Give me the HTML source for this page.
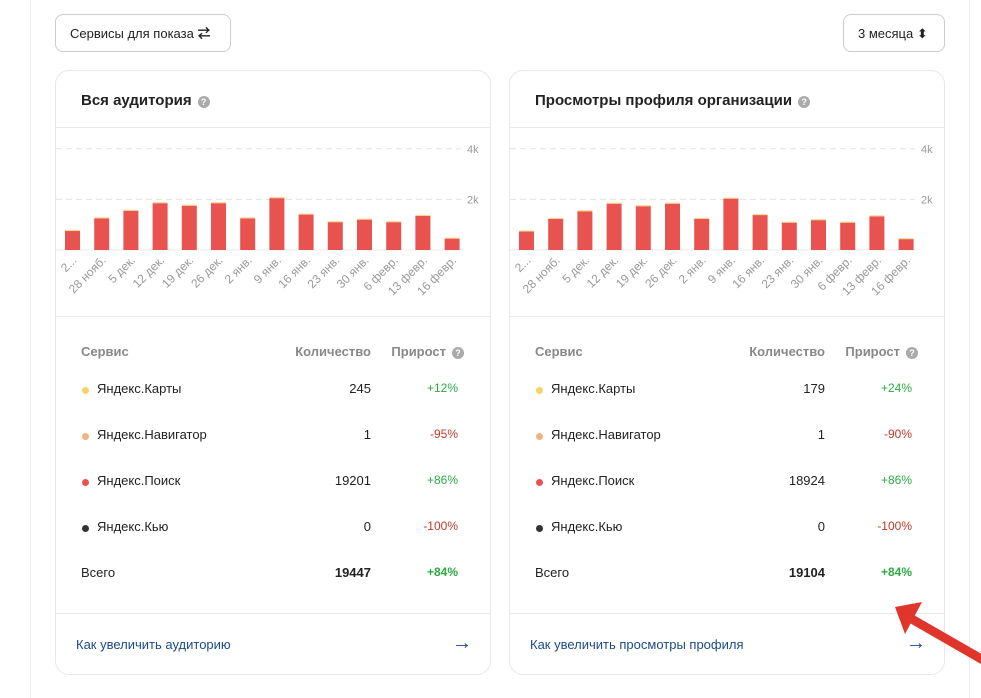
<!DOCTYPE html>
<html><head><meta charset="utf-8">
<style>
body{margin:0;width:981px;height:682px;background:#fff;font-family:"Liberation Sans","Noto Sans CJK SC",sans-serif;position:relative;overflow:hidden;color:#222}
.panel{position:absolute;left:30px;top:-2px;width:938px;height:700px;border-left:1px solid #eee;border-right:1px solid #eee}
.btn{position:absolute;top:14px;height:38px;border:1px solid #ccc;border-radius:8px;font-size:13px;line-height:38px;box-sizing:border-box;padding:0 14px;background:#fff}
.card{position:absolute;top:70px;width:436px;height:605px;border:1px solid #e8e8e8;border-radius:14px;box-sizing:border-box}
.title{position:absolute;left:25px;top:21px;font-size:15px;font-weight:bold;color:#222}
.q{display:inline-block;width:12px;height:12px;border-radius:50%;background:#aaa;color:#fff;font-size:9px;line-height:12px;text-align:center;vertical-align:0px;margin-left:6px}
.hr{position:absolute;left:0;right:0;height:1px;background:#e8e8e8}
.th{position:absolute;top:273px;font-size:13px;font-weight:bold;color:#888}
.row{position:absolute;left:0;right:0;height:20px;font-size:13px}
.row span{position:absolute;top:2px}
.row span.dot{width:7px;height:7px;border-radius:50%;left:26px;top:8px}
.link{position:absolute;left:20px;top:566px;font-size:13px;color:#1b4a8a}
.arr{position:absolute;right:18px;top:561px;font-size:20px;font-weight:bold;color:#1b4a8a}
.up{color:#2bab42}.dn{color:#c0392b}
</style></head><body>
<div class="panel"></div>
<div class="btn" style="left:55px;width:176px">Сервисы для показа <b>⇄</b></div>
<div class="btn" style="left:843px;width:102px">3 месяца ⬍</div>

<div id="c1" class="card" style="left:55px">
 <div class="title">Вся аудитория<span class="q">?</span></div>
 <div class="hr" style="top:56px"></div>
 <svg id="s1" width="436" height="190" style="position:absolute;left:0;top:56px"></svg>
 <div class="hr" style="top:245px"></div>
 <div class="th" style="left:25px">Сервис</div><div class="th" style="right:119px">Количество</div><div class="th" style="right:26px">Прирост<span class="q">?</span></div>
 <div class="row" style="top:308px"><span class="dot" style="background:#f5d36a"></span><span style="left:41px">Яндекс.Карты</span><span style="right:119px">245</span><span class="up" style="right:32px;font-size:12px">+12%</span></div>
 <div class="row" style="top:354px"><span class="dot" style="background:#f3b27e"></span><span style="left:41px">Яндекс.Навигатор</span><span style="right:119px">1</span><span class="dn" style="right:32px;font-size:12px">-95%</span></div>
 <div class="row" style="top:400px"><span class="dot" style="background:#e8534f"></span><span style="left:41px">Яндекс.Поиск</span><span style="right:119px">19201</span><span class="up" style="right:32px;font-size:12px">+86%</span></div>
 <div class="row" style="top:446px"><span class="dot" style="background:#333"></span><span style="left:41px">Яндекс.Кью</span><span style="right:119px">0</span><span class="dn" style="right:32px;font-size:12px">-100%</span></div>
 <div class="row" style="top:492px"><span style="left:25px">Всего</span><span style="right:119px;font-weight:bold">19447</span><span class="up" style="right:32px;font-size:12px;font-weight:bold">+84%</span></div>
 <div class="hr" style="top:542px"></div>
 <div class="link">Как увеличить аудиторию</div><div class="arr">→</div>
</div>

<div id="c2" class="card" style="left:509px">
 <div class="title">Просмотры профиля организации<span class="q">?</span></div>
 <div class="hr" style="top:56px"></div>
 <svg id="s2" width="436" height="190" style="position:absolute;left:0;top:56px"></svg>
 <div class="hr" style="top:245px"></div>
 <div class="th" style="left:25px">Сервис</div><div class="th" style="right:119px">Количество</div><div class="th" style="right:26px">Прирост<span class="q">?</span></div>
 <div class="row" style="top:308px"><span class="dot" style="background:#f5d36a"></span><span style="left:41px">Яндекс.Карты</span><span style="right:119px">179</span><span class="up" style="right:32px;font-size:12px">+24%</span></div>
 <div class="row" style="top:354px"><span class="dot" style="background:#f3b27e"></span><span style="left:41px">Яндекс.Навигатор</span><span style="right:119px">1</span><span class="dn" style="right:32px;font-size:12px">-90%</span></div>
 <div class="row" style="top:400px"><span class="dot" style="background:#e8534f"></span><span style="left:41px">Яндекс.Поиск</span><span style="right:119px">18924</span><span class="up" style="right:32px;font-size:12px">+86%</span></div>
 <div class="row" style="top:446px"><span class="dot" style="background:#333"></span><span style="left:41px">Яндекс.Кью</span><span style="right:119px">0</span><span class="dn" style="right:32px;font-size:12px">-100%</span></div>
 <div class="row" style="top:492px"><span style="left:25px">Всего</span><span style="right:119px;font-weight:bold">19104</span><span class="up" style="right:32px;font-size:12px;font-weight:bold">+84%</span></div>
 <div class="hr" style="top:542px"></div>
 <div class="link">Как увеличить просмотры профиля</div><div class="arr">→</div>
</div>

<svg width="981" height="682" style="position:absolute;left:0;top:0;pointer-events:none">
 <line x1="990" y1="664" x2="910" y2="618" stroke="#e0352b" stroke-width="9"/>
 <polygon points="895,607 922,602 905,634" fill="#e0352b"/>
</svg>

<script>
const categories=["2...","28 нояб.","5 дек.","12 дек.","19 дек.","26 дек.","2 янв.","9 янв.","16 янв.","23 янв.","30 янв.","6 февр.","13 февр.","16 февр."];
const audienceValues=[750,1250,1550,1850,1750,1850,1250,2050,1400,1100,1200,1100,1350,450];
const viewsValues=[730,1230,1530,1830,1730,1830,1230,2030,1380,1080,1180,1080,1330,430];
const tickValues=[2000,4000];
const tickLabels=["2k","4k"];
const NS="http://www.w3.org/2000/svg";
function draw(id,vals){
 const svg=document.getElementById(id);
 const base=123,ppk=25.3,x0=16.5,step=29.2,bw=15;
 const y=v=>base-v/1000*ppk;
 const x=i=>x0+i*step;
 tickValues.forEach((t,k)=>{
  const l=document.createElementNS(NS,'line');
  
  
  l.setAttribute('x1',0);l.setAttribute('x2',405);l.setAttribute('y1',y(t));l.setAttribute('y2',y(t));
  l.setAttribute('stroke','#e3e3e3');l.setAttribute('stroke-dasharray','6,4');svg.appendChild(l);
  const tx=document.createElementNS(NS,'text');
  
  
  tx.setAttribute('x',411);tx.setAttribute('y',y(t)+4);tx.setAttribute('font-size','11');tx.setAttribute('fill','#999');
  tx.textContent=tickLabels[k];svg.appendChild(tx);
 });
 const bl=document.createElementNS(NS,'line');
 
 
 bl.setAttribute('x1',0);bl.setAttribute('x2',405);bl.setAttribute('y1',base);bl.setAttribute('y2',base);bl.setAttribute('stroke','#eee');svg.appendChild(bl);
 vals.forEach((v,i)=>{
  const r=document.createElementNS(NS,'rect');
  
  
  r.setAttribute('x',x(i)-bw/2);r.setAttribute('width',bw);r.setAttribute('y',y(v));r.setAttribute('height',base-y(v));
  r.setAttribute('fill','#e8534f');svg.appendChild(r);
  const c=document.createElementNS(NS,'rect');
  
  
  c.setAttribute('x',x(i)-bw/2);c.setAttribute('width',bw);c.setAttribute('y',y(v)-1);c.setAttribute('height',1);c.setAttribute('fill','#f7d58a');svg.appendChild(c);
  const t=document.createElementNS(NS,'text');
  
  
  t.setAttribute('font-size','12');t.setAttribute('fill','#999');t.setAttribute('text-anchor','end');
  t.setAttribute('transform','translate('+(x(i)+5)+','+(base+11)+') rotate(-45)');
  t.textContent=categories[i];svg.appendChild(t);
 });
}
draw('s1',audienceValues);
draw('s2',viewsValues);
</script>
</body></html>
